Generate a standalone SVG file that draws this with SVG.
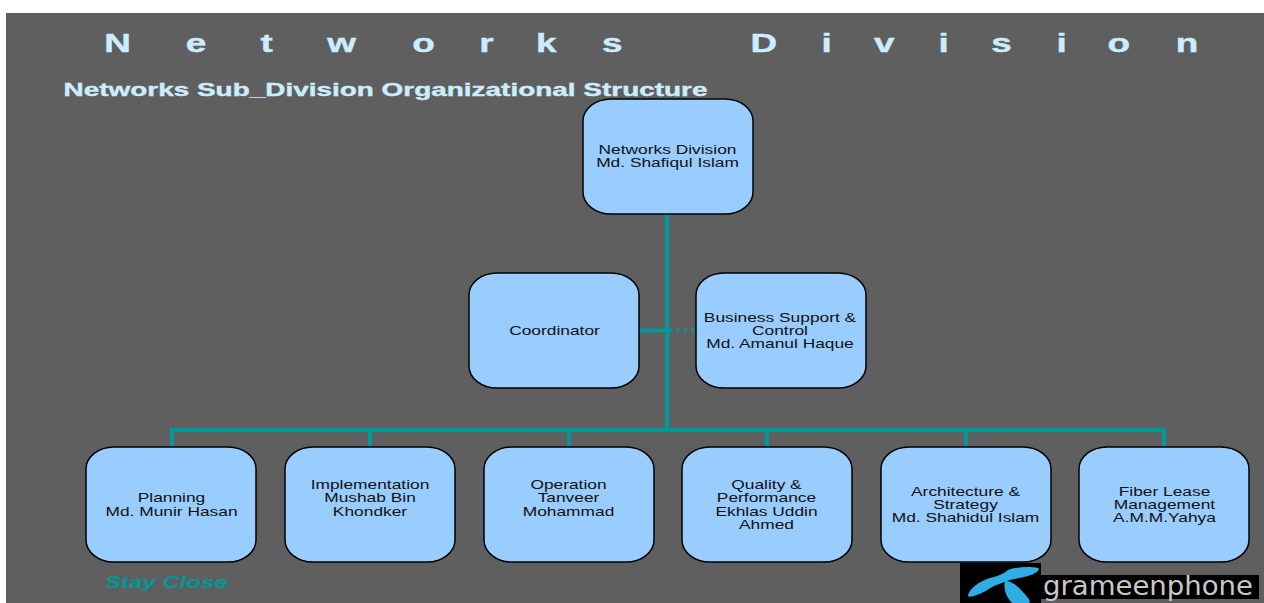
<svg xmlns="http://www.w3.org/2000/svg" width="1264" height="603" viewBox="0 0 1264 603">
<style>
.box{fill:#99ccff;stroke:#000;stroke-width:1.5}
.lbl{font-family:"Liberation Sans",Arial,sans-serif;font-size:13px;fill:#111;text-anchor:middle}
.con{stroke:#009999;stroke-width:4;fill:none}
.head{font-family:"Liberation Sans",Arial,sans-serif;font-weight:bold;fill:#ccecff;stroke:#ccecff;stroke-width:.4}
</style>
<rect x="0" y="0" width="1264" height="603" fill="#fff"/>
<rect x="6" y="13" width="1258" height="590" fill="#5f5f5f"/>
<text class="head" font-size="26" transform="translate(0,51.500) scale(1.42,1)" x="73.500 130.800 183.500 230.500 290.300 337.500 377.500 424 480 528.500 578.500 615.500 661 698 744 780 828" y="0">Networks Division</text>
<text class="head" x="63.500" y="96" font-size="19" textLength="644" lengthAdjust="spacingAndGlyphs">Networks Sub_Division Organizational Structure</text>
<g id="connectors">
<path class="con" d="M667 214V430M172 446V430H1164V446M370 430V446M569 430V446M767 430V446M966 430V446M640 330.500H667"/>
<path class="con" d="M669 330.500H696" stroke-dasharray="2.500 5"/>
</g>
<g id="n-root"><rect class="box" x="583" y="99" width="170" height="115" rx="28" ry="22"/>
<text class="lbl" transform="translate(667.500,0.500) scale(1.335,1)"><tspan x="0" y="154">Networks Division</tspan><tspan x="0" y="167">Md. Shafiqul Islam</tspan></text></g>
<g id="n-coordinator"><rect class="box" x="469" y="273" width="170" height="115" rx="28" ry="22"/>
<text class="lbl" transform="translate(554.500,0.500) scale(1.335,1)"><tspan x="0" y="335">Coordinator</tspan></text></g>
<g id="n-business"><rect class="box" x="696" y="273" width="170" height="115" rx="28" ry="22"/>
<text class="lbl" transform="translate(780,0.500) scale(1.335,1)"><tspan x="0" y="322">Business Support &amp;</tspan><tspan x="0" y="335">Control</tspan><tspan x="0" y="348">Md. Amanul Haque</tspan></text></g>
<g id="n-planning"><rect class="box" x="86" y="447" width="170" height="115" rx="28" ry="22"/>
<text class="lbl" transform="translate(171.500,0.500) scale(1.335,1)"><tspan x="0" y="502">Planning</tspan><tspan x="0" y="516">Md. Munir Hasan</tspan></text></g>
<g id="n-implementation"><rect class="box" x="285" y="447" width="170" height="115" rx="28" ry="22"/>
<text class="lbl" transform="translate(370,0.500) scale(1.335,1)"><tspan x="0" y="489">Implementation</tspan><tspan x="0" y="502">Mushab Bin</tspan><tspan x="0" y="516">Khondker</tspan></text></g>
<g id="n-operation"><rect class="box" x="484" y="447" width="170" height="115" rx="28" ry="22"/>
<text class="lbl" transform="translate(568.500,0.500) scale(1.335,1)"><tspan x="0" y="489">Operation</tspan><tspan x="0" y="502">Tanveer</tspan><tspan x="0" y="516">Mohammad</tspan></text></g>
<g id="n-quality"><rect class="box" x="682" y="447" width="170" height="115" rx="28" ry="22"/>
<text class="lbl" transform="translate(766.500,0.500) scale(1.335,1)"><tspan x="0" y="489">Quality &amp;</tspan><tspan x="0" y="502">Performance</tspan><tspan x="0" y="516">Ekhlas Uddin</tspan><tspan x="0" y="529">Ahmed</tspan></text></g>
<g id="n-architecture"><rect class="box" x="881" y="447" width="170" height="115" rx="28" ry="22"/>
<text class="lbl" transform="translate(965.500,0.500) scale(1.335,1)"><tspan x="0" y="496">Architecture &amp;</tspan><tspan x="0" y="509">Strategy</tspan><tspan x="0" y="522">Md. Shahidul Islam</tspan></text></g>
<g id="n-fiber"><rect class="box" x="1079" y="447" width="170" height="115" rx="28" ry="22"/>
<text class="lbl" transform="translate(1164.500,0.500) scale(1.335,1)"><tspan x="0" y="496">Fiber Lease</tspan><tspan x="0" y="509">Management</tspan><tspan x="0" y="522">A.M.M.Yahya</tspan></text></g>
<text x="105" y="588" font-family="'Liberation Sans',Arial,sans-serif" font-size="17" font-weight="bold" font-style="italic" fill="#009999" textLength="123" lengthAdjust="spacingAndGlyphs">Stay Close</text>
<g id="logo">
<rect x="960" y="563" width="81" height="40" fill="#000"/>
<rect x="1041" y="575" width="218" height="24" fill="#000"/>
<path d="M968 595C970 588 980 581 990 578C998 576 1003 574 1008 570C1015 567 1030 566 1038 568C1041 570 1035 574 1028 576C1020 578 1012 579 1007 581C1003 583 998 584 994 586C988 589 982 594 974 596C970 597 968 597 968 595Z" fill="#2eaee4"/>
<path d="M1005 581C1012 580 1020 588 1028 598C1030 601 1030 603 1029 603H1012C1006 597 1003 588 1005 581Z" fill="#2eaee4"/>
<text x="1043" y="595" font-family="'DejaVu Sans',sans-serif" font-size="26" fill="#c8c8c8" textLength="210" lengthAdjust="spacingAndGlyphs">grameenphone</text>
</g>
</svg>
